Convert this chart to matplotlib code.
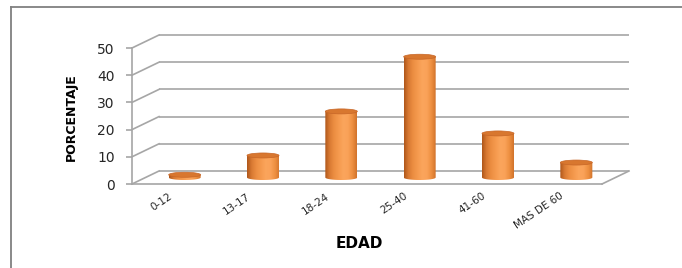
import numpy as np
import matplotlib
matplotlib.use("Agg")
import matplotlib.pyplot as plt
from matplotlib.patches import Ellipse, Polygon
from matplotlib.lines import Line2D
from matplotlib.colors import LinearSegmentedColormap

# ---- data ----
categories = ["0-12", "13-17", "18-24", "25-40", "41-60", "MAS DE 60"]
values = [1.0, 8.1, 24.3, 44.4, 16.2, 5.5]
y_ticks = [0, 10, 20, 30, 40, 50]
x_title = "EDAD"
y_title = "PORCENTAJE"

# ---- style ----
W, H, DPI = 682, 268, 100
grid_c = "#A6A6A6"
border_c = "#808080"
text_c = "#262626"
body_cmap = LinearSegmentedColormap.from_list(
    "cyl", ["#AE561A", "#D97A33", "#EC8E42", "#F59A4E", "#FBA55C",
            "#FAA259", "#EE9041", "#D0722B"])
top_c = "#D8772F"

fig = plt.figure(figsize=(W / DPI, H / DPI), dpi=DPI)
ax_l, ax_b, ax_w, ax_h = 132, 84, 470, 136  # pixels
ax = fig.add_axes([ax_l / W, ax_b / H, ax_w / W, ax_h / H])
xlim = (-0.5, len(categories) - 0.5)
ylim = (0, 50)
ax.patch.set_alpha(0)

# depth offset (pixels) converted to data units
px_x = ax_w / len(categories)
px_y = ax_h / 50.0
DX, DY = 27 / px_x, 13 / px_y
x0, x1 = xlim

lw = 1.2
for yv in y_ticks:
    ax.plot([x0 + DX, x1 + DX], [yv + DY, yv + DY], color=grid_c, lw=lw,
            clip_on=False, zorder=1, solid_capstyle="butt")
    ax.plot([x0, x0 + DX], [yv, yv + DY], color=grid_c, lw=lw, clip_on=False, zorder=1)
ax.plot([x1, x1 + DX], [0, DY], color=grid_c, lw=lw, clip_on=False, zorder=1)

for s in ["top", "right"]:
    ax.spines[s].set_visible(False)
for s in ["left", "bottom"]:
    ax.spines[s].set_color(grid_c)
    ax.spines[s].set_linewidth(lw)

# cylinders at mid depth
bw = 32 / px_x
eh = 5 / px_y
grad = np.linspace(0, 1, 256).reshape(1, -1)
for i, v in enumerate(values):
    cx = i + DX / 2
    by = DY / 2
    t = np.linspace(np.pi, 2 * np.pi, 60)
    arc = np.column_stack([cx + bw / 2 * np.cos(t), by + eh / 2 * np.sin(t)])
    pts = np.vstack([[[cx - bw / 2, by + v]], arc, [[cx + bw / 2, by + v]]])
    shape = Polygon(pts, closed=True, facecolor="none", edgecolor="none")
    ax.add_patch(shape)
    im = ax.imshow(grad, cmap=body_cmap, aspect="auto", interpolation="bilinear",
                   extent=(cx - bw / 2, cx + bw / 2, by - eh / 2, by + v),
                   zorder=3 + i)
    im.set_clip_path(shape)
    top = Ellipse((cx, by + v), bw, eh, facecolor=top_c, edgecolor="#C76627",
                  lw=0.5, clip_on=False, zorder=3 + i + 0.5)
    ax.add_patch(top)

ax.set_xlim(*xlim)
ax.set_ylim(*ylim)
ax.set_yticks(y_ticks)
ax.set_yticklabels([str(t) for t in y_ticks])
ax.tick_params(axis="y", length=4.5, width=lw, color=grid_c, pad=8,
               labelsize=10, labelcolor=text_c)
ax.set_xticks(range(len(categories)))
ax.set_xticklabels(categories, rotation=34, ha="right", va="center",
                   rotation_mode="anchor", fontsize=7.5, color=text_c)
ax.tick_params(axis="x", length=0, pad=8)

# axis titles
fig.text(71 / W, 1 - 117 / H, y_title, rotation=90, ha="center", va="center",
         fontsize=9, fontweight="bold", color="black")
fig.text(359 / W, 1 - 243 / H, x_title, ha="center", va="center",
         fontsize=11, fontweight="bold", color="black")

# outer frame
fig.add_artist(Line2D([11 / W, 11 / W], [0, 1 - 7 / H], color=border_c, lw=1.3,
                      transform=fig.transFigure))
fig.add_artist(Line2D([11 / W, 1], [1 - 7 / H, 1 - 7 / H], color=border_c, lw=1.3,
                      transform=fig.transFigure))

fig.savefig("out.png", dpi=DPI)
